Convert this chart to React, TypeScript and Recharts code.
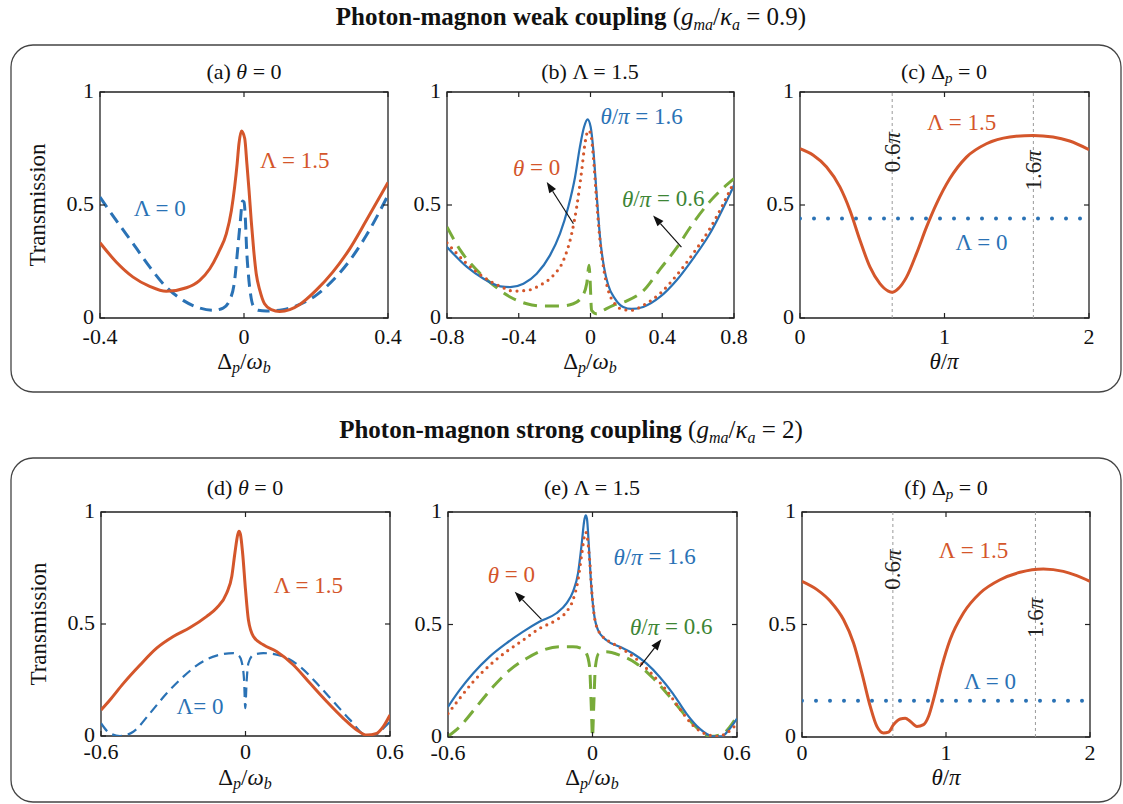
import React from "react"
import { LineChart, Line, XAxis, YAxis, ReferenceArea, ReferenceLine, ReferenceDot } from "recharts"

type Pt = [number, number]

const RED = "#d4562b"
const BLUE = "#2a72b5"
const GREEN = "#78ab3a"
const GREEN_TXT = "#3d8535"
const INK = "#222"
const SERIF = '"Liberation Serif", "DejaVu Serif", "Noto Serif", serif'

// (a) weak coupling, theta = 0
const aLambda15: Pt[] = [
  [-0.4, 0.333], [-0.355, 0.248], [-0.308, 0.181], [-0.262, 0.14], [-0.216, 0.118], [-0.16, 0.134],
  [-0.123, 0.167], [-0.095, 0.218], [-0.068, 0.299], [-0.049, 0.373], [-0.035, 0.476], [-0.026, 0.58],
  [-0.019, 0.683], [-0.014, 0.771], [-0.007, 0.827], [0.002, 0.794], [0.008, 0.683], [0.014, 0.565],
  [0.02, 0.432], [0.027, 0.299], [0.034, 0.196], [0.044, 0.122], [0.057, 0.063], [0.076, 0.037],
  [0.099, 0.029], [0.127, 0.037], [0.155, 0.06], [0.2, 0.122], [0.247, 0.204], [0.294, 0.307],
  [0.34, 0.432], [0.4, 0.6],
]
const aLambda0: Pt[] = [
  [-0.4, 0.535], [-0.355, 0.432], [-0.308, 0.329], [-0.262, 0.226], [-0.216, 0.137], [-0.169, 0.078],
  [-0.123, 0.044], [-0.086, 0.034], [-0.058, 0.044], [-0.04, 0.078], [-0.026, 0.167], [-0.017, 0.314],
  [-0.01, 0.432], [-0.004, 0.518], [0.0, 0.513], [0.004, 0.432], [0.007, 0.314], [0.012, 0.196],
  [0.018, 0.108], [0.025, 0.056], [0.039, 0.034], [0.062, 0.031], [0.108, 0.037], [0.155, 0.06],
  [0.2, 0.1], [0.247, 0.167], [0.294, 0.255], [0.34, 0.366], [0.4, 0.543],
]

// (b) weak coupling, Lambda = 1.5
const bTheta16: Pt[] = [
  [-0.8, 0.314], [-0.689, 0.226], [-0.596, 0.174], [-0.503, 0.14], [-0.448, 0.137], [-0.374, 0.152],
  [-0.3, 0.196], [-0.226, 0.277], [-0.17, 0.373], [-0.124, 0.491], [-0.086, 0.624], [-0.059, 0.757],
  [-0.036, 0.845], [-0.016, 0.879], [0.001, 0.845], [0.016, 0.742], [0.034, 0.55], [0.053, 0.358],
  [0.075, 0.226], [0.099, 0.145], [0.136, 0.086], [0.182, 0.049], [0.229, 0.04], [0.294, 0.049],
  [0.387, 0.093], [0.48, 0.167], [0.572, 0.263], [0.665, 0.373], [0.8, 0.587],
]
const bTheta0: Pt[] = [
  [-0.8, 0.333], [-0.689, 0.24], [-0.596, 0.181], [-0.503, 0.14], [-0.429, 0.119], [-0.355, 0.122],
  [-0.281, 0.145], [-0.207, 0.189], [-0.151, 0.255], [-0.105, 0.373], [-0.077, 0.491], [-0.049, 0.653],
  [-0.031, 0.771], [-0.012, 0.83], [0.001, 0.816], [0.016, 0.712], [0.034, 0.521], [0.053, 0.344],
  [0.075, 0.211], [0.099, 0.122], [0.136, 0.063], [0.182, 0.037], [0.229, 0.034], [0.294, 0.056],
  [0.387, 0.108], [0.48, 0.189], [0.572, 0.285], [0.665, 0.395], [0.8, 0.602],
]
const bTheta06: Pt[] = [
  [-0.8, 0.403], [-0.726, 0.3], [-0.633, 0.211], [-0.54, 0.145], [-0.448, 0.093], [-0.355, 0.063],
  [-0.262, 0.053], [-0.17, 0.053], [-0.096, 0.063], [-0.049, 0.093], [-0.021, 0.152], [-0.008, 0.233],
  [-0.003, 0.181], [0.006, 0.034], [0.034, 0.019], [0.071, 0.034], [0.127, 0.056], [0.2, 0.075],
  [0.294, 0.12], [0.387, 0.215], [0.48, 0.31], [0.572, 0.42], [0.665, 0.515], [0.8, 0.617],
]

// (c) weak coupling, Delta_p = 0
const cLambda15: Pt[] = [
  [0, 0.749], [0.092, 0.72], [0.184, 0.668], [0.276, 0.58], [0.346, 0.476], [0.415, 0.344],
  [0.484, 0.226], [0.553, 0.152], [0.611, 0.119], [0.638, 0.114], [0.68, 0.13], [0.737, 0.181],
  [0.806, 0.285], [0.876, 0.403], [0.945, 0.506], [1.037, 0.617], [1.152, 0.712], [1.29, 0.771],
  [1.452, 0.801], [1.613, 0.808], [1.751, 0.801], [1.866, 0.783], [2.0, 0.745],
]
const cLambda0: Pt[] = [[0, 0.44], [2, 0.44]]

// (d) strong coupling, theta = 0
const dLambda15: Pt[] = [
  [-0.6, 0.116], [-0.563, 0.161], [-0.507, 0.235], [-0.438, 0.317], [-0.369, 0.392], [-0.3, 0.444],
  [-0.23, 0.484], [-0.161, 0.534], [-0.12, 0.571], [-0.078, 0.638], [-0.057, 0.712], [-0.044, 0.817],
  [-0.032, 0.9], [-0.027, 0.914], [-0.021, 0.9], [-0.012, 0.817], [0.0, 0.653], [0.012, 0.519],
  [0.033, 0.444], [0.074, 0.407], [0.129, 0.377], [0.199, 0.317], [0.268, 0.235], [0.337, 0.154],
  [0.406, 0.079], [0.462, 0.027], [0.503, 0.004], [0.545, 0.012], [0.572, 0.042], [0.6, 0.094],
]
const dLambda0: Pt[] = [
  [-0.6, 0.057], [-0.563, 0.012], [-0.521, 0.0], [-0.466, 0.019], [-0.397, 0.101], [-0.327, 0.191],
  [-0.258, 0.265], [-0.189, 0.325], [-0.12, 0.359], [-0.05, 0.37], [-0.03, 0.362], [-0.016, 0.332],
  [-0.006, 0.25], [-0.001, 0.124], [0.005, 0.25], [0.012, 0.325], [0.033, 0.362], [0.074, 0.37],
  [0.157, 0.355], [0.226, 0.31], [0.296, 0.235], [0.365, 0.154], [0.434, 0.072], [0.503, 0.004],
  [0.545, 0.009], [0.572, 0.034], [0.6, 0.064],
]

// (e) strong coupling, Lambda = 1.5
const eTheta16: Pt[] = [
  [-0.6, 0.134], [-0.552, 0.208], [-0.496, 0.282], [-0.427, 0.357], [-0.358, 0.416], [-0.288, 0.468],
  [-0.219, 0.513], [-0.15, 0.55], [-0.108, 0.594], [-0.081, 0.646], [-0.06, 0.728], [-0.046, 0.847],
  [-0.033, 0.97], [-0.028, 0.985], [-0.023, 0.97], [-0.015, 0.847], [-0.005, 0.669], [0.006, 0.55],
  [0.023, 0.475], [0.057, 0.431], [0.113, 0.401], [0.168, 0.371], [0.224, 0.327], [0.279, 0.267],
  [0.334, 0.193], [0.39, 0.104], [0.445, 0.037], [0.5, 0.003], [0.535, 0.003], [0.57, 0.037], [0.6, 0.082],
]
const eTheta0: Pt[] = [
  [-0.6, 0.104], [-0.552, 0.171], [-0.496, 0.245], [-0.427, 0.319], [-0.358, 0.379], [-0.288, 0.431],
  [-0.219, 0.483], [-0.15, 0.52], [-0.108, 0.557], [-0.081, 0.609], [-0.06, 0.698], [-0.046, 0.802],
  [-0.033, 0.895], [-0.028, 0.91], [-0.023, 0.895], [-0.012, 0.788], [0.0, 0.609], [0.013, 0.505],
  [0.037, 0.453], [0.085, 0.416], [0.141, 0.379], [0.196, 0.334], [0.251, 0.275], [0.307, 0.208],
  [0.362, 0.126], [0.417, 0.052], [0.473, 0.012], [0.521, 0.003], [0.563, 0.022], [0.6, 0.059],
]
const eTheta06: Pt[] = [
  [-0.6, 0.003], [-0.552, 0.045], [-0.482, 0.134], [-0.413, 0.223], [-0.344, 0.297], [-0.274, 0.349],
  [-0.205, 0.386], [-0.136, 0.401], [-0.081, 0.401], [-0.046, 0.394], [-0.025, 0.371], [-0.012, 0.312],
  [-0.005, 0.134], [0.0, 0.0], [0.005, 0.134], [0.012, 0.312], [0.026, 0.371], [0.057, 0.379],
  [0.113, 0.364], [0.182, 0.327], [0.251, 0.262], [0.32, 0.18], [0.39, 0.09], [0.445, 0.03],
  [0.49, 0.003], [0.542, 0.015], [0.57, 0.045], [0.6, 0.092],
]

// (f) strong coupling, Delta_p = 0
const fLambda15: Pt[] = [
  [0, 0.692], [0.104, 0.655], [0.197, 0.603], [0.289, 0.521], [0.358, 0.418], [0.416, 0.284],
  [0.474, 0.136], [0.52, 0.047], [0.566, 0.018], [0.601, 0.022], [0.636, 0.055], [0.682, 0.08],
  [0.717, 0.083], [0.751, 0.07], [0.798, 0.047], [0.844, 0.055], [0.879, 0.092], [0.913, 0.166],
  [0.971, 0.314], [1.029, 0.433], [1.121, 0.551], [1.237, 0.64], [1.376, 0.699], [1.514, 0.732],
  [1.676, 0.747], [1.815, 0.736], [1.908, 0.717], [2.0, 0.692],
]
const fLambda0: Pt[] = [[0, 0.161], [2, 0.161]]

const xTicksA = [-0.4, 0, 0.4]
const xTicksB = [-0.8, -0.4, 0, 0.4, 0.8]
const xTicksWide = [-0.6, 0, 0.6]
const thetaTicks = [0, 1, 2]
const yTicks = [0, 0.5, 1]

const rows = (pts: Pt[]) => pts.map(([x, y]) => ({ x, y }))

type Series = { pts: Pt[]; color: string; width: number; dash?: string; round?: boolean }
type Note = { at: Pt; color: string; text: React.ReactNode; vertical?: boolean }
type Arrow = { from: Pt; to: Pt }

const It = ({ children }: { children: React.ReactNode }) => <tspan fontStyle="italic">{children}</tspan>

const solid = (pts: Pt[], color: string, width = 3): Series => ({ pts, color, width })
const dashed = (pts: Pt[], color: string, width: number, dash: string): Series => ({ pts, color, width, dash })
const dotted = (pts: Pt[], color: string, width: number, gap: number): Series => ({
  pts, color, width, dash: `0 ${gap}`, round: true,
})

function ArrowShape(p: any) {
  const { x1, y1, x2, y2 } = p
  const dx = x2 - x1
  const dy = y2 - y1
  const len = Math.hypot(dx, dy) || 1
  const ux = dx / len
  const uy = dy / len
  const bx = x2 - ux * 11
  const by = y2 - uy * 11
  return (
    <g>
      <line x1={x1} y1={y1} x2={bx} y2={by} stroke="#111" strokeWidth={1.2} />
      <polygon
        points={`${x2},${y2} ${bx - uy * 4},${by + ux * 4} ${bx + uy * 4},${by - ux * 4}`}
        fill="#111"
      />
    </g>
  )
}

function Panel(props: {
  left: number
  top: number
  w: number
  h: number
  domain: [number, number]
  xTicks: number[]
  series: Series[]
  notes?: Note[]
  arrows?: Arrow[]
  marks?: number[]
  tickDrop: number
}) {
  const { left, top, w, h, domain, xTicks, series, notes = [], arrows = [], marks = [], tickDrop } = props
  // axis sizes plus margins define the plot rectangle
  const AX_H = 30
  const AX_W = 60
  const m = { top: 20, right: 30, bottom: 10, left: 10 }
  const outL = m.left + AX_W
  const outT = m.top

  const XTick = (p: any) => (
    <g>
      <line x1={p.x} y1={outT + h} x2={p.x} y2={outT + h - 5} stroke={INK} strokeWidth={1.2} />
      <line x1={p.x} y1={outT} x2={p.x} y2={outT + 5} stroke={INK} strokeWidth={1.2} />
      <text x={p.x} y={outT + h + tickDrop} textAnchor="middle" fontSize={22} fontFamily={SERIF} fill="#111">
        {p.payload.value}
      </text>
    </g>
  )
  const YTick = (p: any) => (
    <g>
      <line x1={outL} y1={p.y} x2={outL + 5} y2={p.y} stroke={INK} strokeWidth={1.2} />
      <line x1={outL + w} y1={p.y} x2={outL + w - 5} y2={p.y} stroke={INK} strokeWidth={1.2} />
      <text x={outL - 6} y={p.y + 6} textAnchor="end" fontSize={22} fontFamily={SERIF} fill="#111">
        {p.payload.value}
      </text>
    </g>
  )

  return (
    <div style={{ position: "absolute", left: left - outL, top: top - outT }}>
      <LineChart width={w + outL + m.right} height={h + outT + AX_H + m.bottom} margin={m}>
        <XAxis
          type="number"
          dataKey="x"
          domain={domain}
          ticks={xTicks}
          interval={0}
          height={AX_H}
          tickLine={false}
          axisLine={false}
          tick={XTick}
          allowDataOverflow
        />
        <YAxis
          type="number"
          domain={[0, 1]}
          ticks={yTicks}
          interval={0}
          width={AX_W}
          tickLine={false}
          axisLine={false}
          tick={YTick}
          allowDataOverflow
        />
        {marks.map((x) => (
          <ReferenceLine key={"m" + x} x={x} stroke="#9a9a9a" strokeWidth={1} strokeDasharray="3 3" />
        ))}
        {series.map((s, i) => (
          <Line
            key={i}
            data={rows(s.pts)}
            dataKey="y"
            type="monotone"
            stroke={s.color}
            strokeWidth={s.width}
            strokeDasharray={s.dash}
            strokeLinecap={s.round ? "round" : "butt"}
            dot={false}
            activeDot={false}
            isAnimationActive={false}
          />
        ))}
        <ReferenceArea
          x1={domain[0]}
          x2={domain[1]}
          y1={0}
          y2={1}
          fill="none"
          fillOpacity={0}
          stroke={INK}
          strokeWidth={1.3}
        />
        {arrows.map((a, i) => (
          <ReferenceLine
            key={"a" + i}
            segment={[{ x: a.from[0], y: a.from[1] }, { x: a.to[0], y: a.to[1] }]}
            ifOverflow="visible"
            shape={(p: any) => <ArrowShape {...p} />}
          />
        ))}
        {notes.map((n, i) => (
          <ReferenceDot
            key={"n" + i}
            x={n.at[0]}
            y={n.at[1]}
            r={1}
            ifOverflow="visible"
            shape={(p: any) => (
              <text
                x={p.cx}
                y={p.cy}
                textAnchor="middle"
                dominantBaseline="central"
                fill={n.color}
                fontSize={23}
                fontFamily={SERIF}
                transform={n.vertical ? `rotate(-90 ${p.cx} ${p.cy})` : undefined}
              >
                {n.text}
              </text>
            )}
          />
        ))}
      </LineChart>
    </div>
  )
}

const lam = (v: string) => `Λ = ${v}`
const thetaPi = (v: string) => (
  <>
    <It>θ</It>/<It>π</It> = {v}
  </>
)
const theta0 = (
  <>
    <It>θ</It> = 0
  </>
)
const piMark = (v: string) => (
  <>
    {v}
    <It>π</It>
  </>
)

const DeltaLabel = ({ x, y }: { x: number; y: number }) => (
  <text x={x} y={y} textAnchor="middle" fontSize={23} fontFamily={SERIF} fill="#111">
    Δ<tspan fontStyle="italic" fontSize={16} dy={4}>p</tspan>
    <tspan dy={-4}>/</tspan>
    <tspan fontStyle="italic">ω</tspan>
    <tspan fontStyle="italic" fontSize={16} dy={4}>b</tspan>
  </text>
)
const ThetaLabel = ({ x, y }: { x: number; y: number }) => (
  <text x={x} y={y} textAnchor="middle" fontSize={23} fontFamily={SERIF} fill="#111">
    <tspan fontStyle="italic">θ</tspan>/<tspan fontStyle="italic">π</tspan>
  </text>
)
const YLabel = ({ x, y }: { x: number; y: number }) => (
  <text
    transform={`translate(${x},${y}) rotate(-90)`}
    textAnchor="middle"
    fontSize={23}
    fontFamily={SERIF}
    fill="#111"
  >
    Transmission
  </text>
)
const PanelTitle = ({ x, y, children }: { x: number; y: number; children: React.ReactNode }) => (
  <text x={x} y={y} textAnchor="middle" fontSize={22} fontFamily={SERIF} fill="#111">
    {children}
  </text>
)
const SupTitle = ({ y, kind, ratio }: { y: number; kind: string; ratio: string }) => (
  <text x={571} y={y} textAnchor="middle" fontSize={25} fontFamily={SERIF} fill="#111">
    <tspan fontWeight="bold">{`Photon-magnon ${kind} coupling `}</tspan>(
    <tspan fontStyle="italic">g</tspan>
    <tspan fontStyle="italic" fontSize={16} dy={5}>ma</tspan>
    <tspan dy={-5}>/</tspan>
    <tspan fontStyle="italic">κ</tspan>
    <tspan fontStyle="italic" fontSize={16} dy={5}>a</tspan>
    <tspan dy={-5}>{` = ${ratio})`}</tspan>
  </text>
)

export default function App() {
  return (
    <div
      style={{
        position: "relative",
        width: 1123,
        height: 804,
        background: "#fff",
        overflow: "hidden",
        fontFamily: SERIF,
      }}
    >
      <style>{"body{margin:0}"}</style>
      <svg width={1123} height={804} style={{ position: "absolute", left: 0, top: 0 }}>
        <SupTitle y={25} kind="weak" ratio="0.9" />
        <SupTitle y={438} kind="strong" ratio="2" />
        <rect x={11} y={45} width={1110} height={347} rx={22} fill="none" stroke="#444" strokeWidth={1.3} />
        <rect x={11} y={458} width={1110} height={344} rx={22} fill="none" stroke="#444" strokeWidth={1.3} />

        <PanelTitle x={244} y={79}>(a) <It>θ</It> = 0</PanelTitle>
        <PanelTitle x={590} y={79}>(b) Λ = 1.5</PanelTitle>
        <PanelTitle x={944} y={79}>
          (c) Δ<tspan fontStyle="italic" fontSize={15} dy={4}>p</tspan>
          <tspan dy={-4}> = 0</tspan>
        </PanelTitle>
        <PanelTitle x={245} y={495}>(d) <It>θ</It> = 0</PanelTitle>
        <PanelTitle x={592} y={495}>(e) Λ = 1.5</PanelTitle>
        <PanelTitle x={946} y={495}>
          (f) Δ<tspan fontStyle="italic" fontSize={15} dy={4}>p</tspan>
          <tspan dy={-4}> = 0</tspan>
        </PanelTitle>

        <DeltaLabel x={244} y={369} />
        <DeltaLabel x={590} y={369} />
        <ThetaLabel x={944} y={369} />
        <DeltaLabel x={245} y={785} />
        <DeltaLabel x={592} y={785} />
        <ThetaLabel x={946} y={785} />

        <YLabel x={45} y={205} />
        <YLabel x={46} y={624} />
      </svg>

      <Panel
        left={100} top={92} w={288} h={226} domain={[-0.4, 0.4]} xTicks={xTicksA} tickDrop={26}
        series={[dashed(aLambda0, BLUE, 3, "12 7"), solid(aLambda15, RED, 3)]}
        notes={[
          { at: [0.141, 0.698], color: RED, text: lam("1.5") },
          { at: [-0.234, 0.484], color: BLUE, text: lam("0") },
        ]}
      />
      <Panel
        left={447} top={92} w={287} h={226} domain={[-0.8, 0.8]} xTicks={xTicksB} tickDrop={26}
        series={[
          dashed(bTheta06, GREEN, 3, "14 8"),
          solid(bTheta16, BLUE, 2.2),
          dotted(bTheta0, RED, 3.2, 6.7),
        ]}
        notes={[
          { at: [0.285, 0.892], color: BLUE, text: thetaPi("1.6") },
          { at: [-0.3, 0.665], color: RED, text: theta0 },
          { at: [0.405, 0.528], color: GREEN_TXT, text: thetaPi("0.6") },
        ]}
        arrows={[
          { from: [-0.095, 0.417], to: [-0.244, 0.602] },
          { from: [0.507, 0.314], to: [0.349, 0.454] },
        ]}
      />
      <Panel
        left={800} top={92} w={289} h={226} domain={[0, 2]} xTicks={thetaTicks} tickDrop={26}
        marks={[0.638, 1.615]}
        series={[solid(cLambda15, RED, 3), dotted(cLambda0, BLUE, 4, 14)]}
        notes={[
          { at: [1.118, 0.864], color: RED, text: lam("1.5") },
          { at: [1.256, 0.336], color: BLUE, text: lam("0") },
          { at: [0.638, 0.734], color: INK, text: piMark("0.6"), vertical: true },
          { at: [1.615, 0.653], color: INK, text: piMark("1.6"), vertical: true },
        ]}
      />
      <Panel
        left={101} top={512} w={289} h={224} domain={[-0.6, 0.6]} xTicks={xTicksWide} tickDrop={23}
        series={[dashed(dLambda0, BLUE, 2.2, "10 6"), solid(dLambda15, RED, 3)]}
        notes={[
          { at: [0.261, 0.671], color: RED, text: lam("1.5") },
          { at: [-0.189, 0.131], color: BLUE, text: "Λ= 0" },
        ]}
      />
      <Panel
        left={448} top={512} w={289} h={225} domain={[-0.6, 0.6]} xTicks={xTicksWide} tickDrop={23}
        series={[
          dashed(eTheta06, GREEN, 3, "14 8"),
          solid(eTheta16, BLUE, 2.2),
          dotted(eTheta0, RED, 3.2, 6.7),
        ]}
        notes={[
          { at: [0.258, 0.802], color: BLUE, text: thetaPi("1.6") },
          { at: [-0.337, 0.721], color: RED, text: theta0 },
          { at: [0.327, 0.49], color: GREEN_TXT, text: thetaPi("0.6") },
        ]}
        arrows={[
          { from: [-0.212, 0.523], to: [-0.323, 0.646] },
          { from: [0.196, 0.312], to: [0.286, 0.434] },
        ]}
      />
      <Panel
        left={802} top={512} w={288} h={225} domain={[0, 2]} xTicks={thetaTicks} tickDrop={23}
        marks={[0.631, 1.621]}
        series={[solid(fLambda15, RED, 3), dotted(fLambda0, BLUE, 4, 14)]}
        notes={[
          { at: [1.191, 0.828], color: RED, text: lam("1.5") },
          { at: [1.306, 0.247], color: BLUE, text: lam("0") },
          { at: [0.631, 0.744], color: INK, text: piMark("0.6"), vertical: true },
          { at: [1.621, 0.529], color: INK, text: piMark("1.6"), vertical: true },
        ]}
      />
    </div>
  )
}
